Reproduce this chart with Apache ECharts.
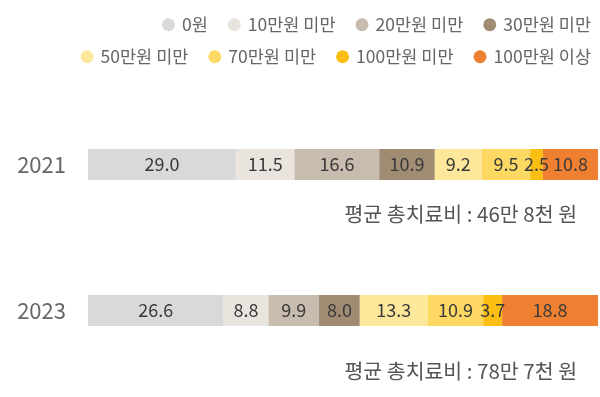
<!DOCTYPE html>
<html>
<head>
<meta charset="utf-8">
<script src="https://cdn.jsdelivr.net/npm/echarts@6/dist/echarts.min.js"></script>
<style>
  html, body { margin: 0; padding: 0; background: #fff; }
  #chart { width: 600px; height: 397px; }
</style>
</head>
<body>
<div id="chart"></div>
<script>
// 연도
const years = ['2021', '2023']
// 구간 이름
const groups = ['0원', '10만원 미만', '20만원 미만', '30만원 미만', '50만원 미만', '70만원 미만', '100만원 미만', '100만원 이상']
// 구간별 비율(%) - 각 연도
const share0 = [29.0, 26.6]
const share10 = [11.5, 8.8]
const share20 = [16.6, 9.9]
const share30 = [10.9, 8.0]
const share50 = [9.2, 13.3]
const share70 = [9.5, 10.9]
const share100u = [2.5, 3.7]
const share100o = [10.8, 18.8]
// 평균 총치료비
const avgCost = ['평균 총치료비 : 46만 8천 원', '평균 총치료비 : 78만 7천 원']

const colors = ['#d9d9d9', '#e9e5de', '#c8bcae', '#a08b73', '#fde79a', '#fdd964', '#fbbe12', '#ef7f31']
const values = [share0, share10, share20, share30, share50, share70, share100u, share100o]
const font = '"Noto Sans CJK KR", "Noto Sans", sans-serif'

let seriesData = []
groups.forEach((name, i) => {
  seriesData.push({
    name: name,
    type: 'bar',
    stack: 'total',
    barWidth: 31,
    color: colors[i],
    label: {
      show: true,
      position: 'inside',
      color: '#3a3a3a',
      fontSize: 18,
      fontFamily: font,
      formatter: (p) => p.value.toFixed(1),
    },
    emphasis: { disabled: true },
    data: values[i],
  })
})

const legendCommon = {
  right: 4,
  icon: 'circle',
  itemWidth: 13,
  itemHeight: 13,
  itemGap: 20,
  textStyle: { color: '#666', fontSize: 17.5, fontFamily: font, padding: [0, 0, 0, 2] },
}

const option = {
  animation: false,
  legend: [
    Object.assign({ top: 11, data: groups.slice(0, 4) }, legendCommon),
    Object.assign({ top: 43, data: groups.slice(4) }, legendCommon),
  ],
  grid: { left: 88, right: 2, top: 91.5, bottom: 13.5 },
  xAxis: {
    type: 'value',
    min: 0,
    max: 100,
    show: false,
  },
  yAxis: {
    type: 'category',
    inverse: true,
    data: years,
    axisLine: { show: false },
    axisTick: { show: false },
    axisLabel: { color: '#666', fontSize: 22, fontFamily: font, margin: 22 },
  },
  graphic: [
    { type: 'text', right: 23, top: 204, style: { text: avgCost[0], fill: '#555', fontSize: 20.5, fontFamily: font } },
    { type: 'text', right: 23, top: 361, style: { text: avgCost[1], fill: '#555', fontSize: 20.5, fontFamily: font } },
  ],
  series: seriesData,
}

const myChart = echarts.init(document.getElementById('chart'))
myChart.setOption(option)
</script>
</body>
</html>
